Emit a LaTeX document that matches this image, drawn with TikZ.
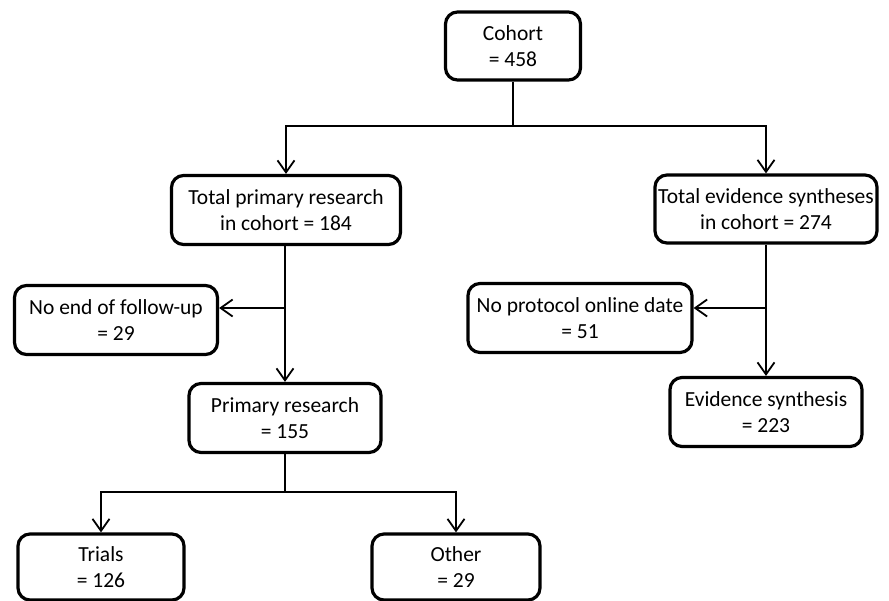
\documentclass[tikz,border=0pt]{standalone}
\usepackage{fontspec}
\setmainfont{Carlito}
\usetikzlibrary{arrows.meta}
\begin{document}
\begin{tikzpicture}[x=1pt,y=-1pt,
  box/.style={draw,line width=3.2pt,rounded corners=12pt,align=center,inner sep=0pt,
    font=\fontsize{21.5}{26.5}\selectfont,fill=white},
  conn/.style={line width=1.8pt},
  arr/.style={conn,-{Straight Barb[length=12pt,width=17pt,line width=1.8pt]}}]
\useasboundingbox (0,0) rectangle (889,600);
\node[box,minimum width=135pt,minimum height=68pt] (cohort) at (513,46) {Cohort\\= 458};
\node[box,minimum width=229pt,minimum height=69pt] (tpr) at (286,210) {Total primary research\\in cohort = 184};
\node[box,minimum width=222pt,minimum height=68pt] (tes) at (766,209) {Total evidence syntheses\\in cohort = 274};
\node[box,minimum width=203pt,minimum height=69pt] (noend) at (116,320) {No end of follow-up\\= 29};
\node[box,minimum width=224pt,minimum height=69pt] (noprot) at (580,318) {No protocol online date\\= 51};
\node[box,minimum width=192pt,minimum height=69pt] (pr) at (285,418) {Primary research\\= 155};
\node[box,minimum width=192pt,minimum height=69pt] (es) at (766,412) {Evidence synthesis\\= 223};
\node[box,minimum width=166pt,minimum height=66pt] (trials) at (101,567) {Trials\\= 126};
\node[box,minimum width=168pt,minimum height=66pt] (other) at (456,567) {Other\\= 29};
\coordinate (c1) at (513,126);
\coordinate (p1) at (285,308);
\coordinate (e1) at (766,308);
\coordinate (b1) at (285,492);
\draw[conn] (cohort.south) -- (c1);
\draw[arr] (c1) -| (tpr.north);
\draw[arr] (c1) -| (tes.north);
\draw[arr] (tpr.south -| pr.north) -- (pr.north);
\draw[arr] (p1) -- (p1 -| noend.east);
\draw[arr] (tes.south) -- (es.north);
\draw[arr] (e1) -- (e1 -| noprot.east);
\draw[conn] (pr.south) -- (b1);
\draw[arr] (b1) -| (trials.north);
\draw[arr] (b1) -| (other.north);
\end{tikzpicture}
\end{document}
